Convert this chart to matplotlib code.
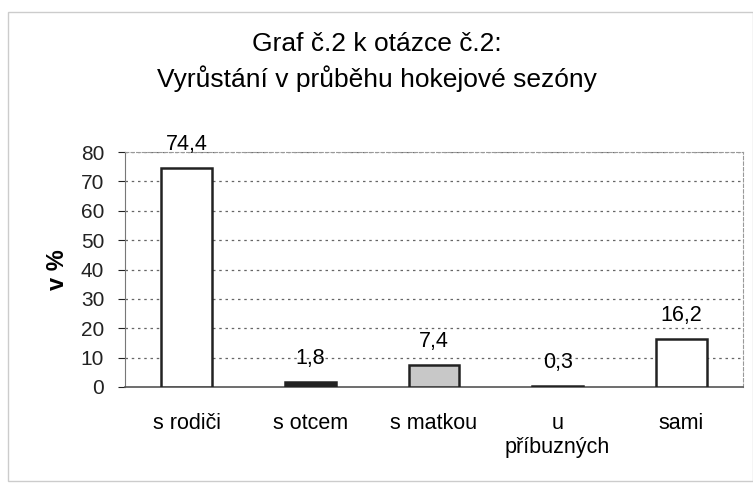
import matplotlib
matplotlib.use("Agg")
import matplotlib.pyplot as plt
from matplotlib.patches import Rectangle

plt.rcParams['font.family'] = ['Liberation Sans', 'DejaVu Sans']

categories = ["s rodiči", "s otcem", "s matkou", "u\npříbuzných", "sami"]
values = [74.4, 1.8, 7.4, 0.3, 16.2]
labels = ["74,4", "1,8", "7,4", "0,3", "16,2"]
colors = ["white", "#222222", "#c8c8c8", "#222222", "white"]
yticks = [0, 10, 20, 30, 40, 50, 60, 70, 80]

fig = plt.figure(figsize=(7.53, 4.83), dpi=100)
fig.patches.append(Rectangle((8/753, 0.005), 745/753, 1 - 12/483 - 0.005, transform=fig.transFigure,
                             fill=False, edgecolor="#cccccc", linewidth=1.0))

ax = fig.add_axes([125/753, 1 - 387/483, 618/753, 235/483])
x = range(len(categories))
ax.bar(x, values, width=0.41, color=colors, edgecolor="#222222", linewidth=1.8, zorder=3)
ax.set_xlim(-0.5, 4.5)
ax.set_ylim(0, 80)
ax.set_yticks(yticks)
ax.set_yticklabels([str(t) for t in yticks], fontsize=15)
ax.set_xticks(list(x))
ax.set_xticklabels(categories, fontsize=15.5, linespacing=1.15, va="top")
ax.tick_params(axis="x", length=0, pad=19)
ax.tick_params(axis="y", length=5, width=0.8, direction="out", pad=10, colors="#222222")
for t in yticks[1:]:
    ax.axhline(t, color="#666666", linestyle=(0, (2, 3)), linewidth=0.9, zorder=1)
for s in ["top", "right"]:
    ax.spines[s].set_linestyle((0, (3, 2)))
    ax.spines[s].set_color("#999999")
    ax.spines[s].set_linewidth(0.8)
ax.spines["left"].set_color("#777777")
ax.spines["bottom"].set_color("#555555")
ax.spines["bottom"].set_linewidth(1.2)

for xi, v, lab in zip(x, values, labels):
    ax.annotate(lab, (xi, v), xytext=(0, 13), textcoords="offset points",
                ha="center", va="baseline", fontsize=15.5, zorder=4)

ax.text(57/753, 1 - 270/483, "v %", transform=fig.transFigure, rotation=90,
        ha="center", va="center", fontsize=17, fontweight="bold")

fig.text(0.5, 1 - 44/483, "Graf č.2 k otázce č.2:", ha="center", va="center", fontsize=19)
fig.text(0.5, 1 - 79/483, "Vyrůstání v průběhu hokejové sezóny", ha="center", va="center", fontsize=19)

fig.savefig("out.png", dpi=100)
